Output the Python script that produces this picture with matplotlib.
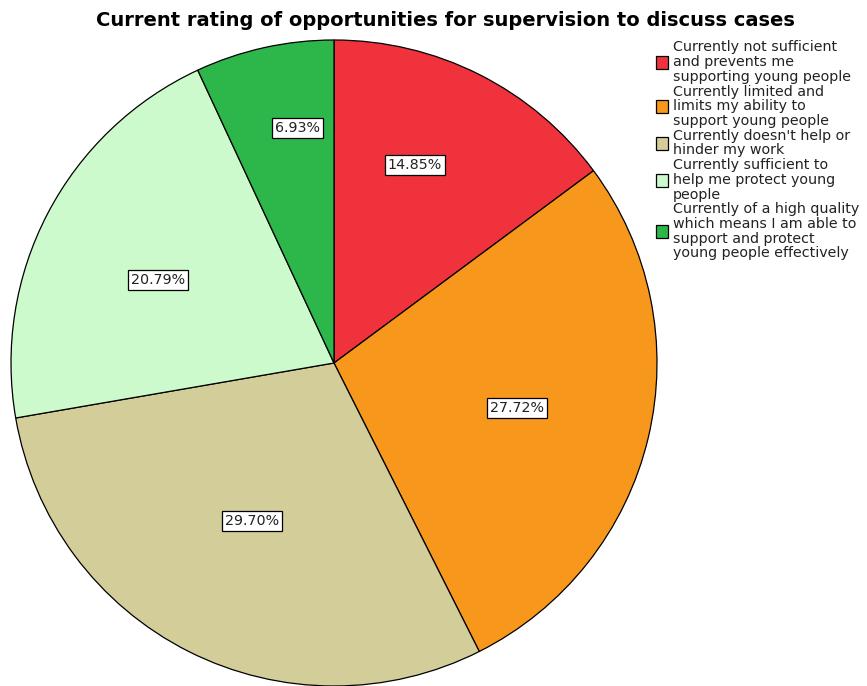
import matplotlib
matplotlib.use("Agg")
import numpy as np
import matplotlib.pyplot as plt
from matplotlib.patches import Rectangle

categories = [
    "Currently not sufficient\nand prevents me\nsupporting young people",
    "Currently limited and\nlimits my ability to\nsupport young people",
    "Currently doesn't help or\nhinder my work",
    "Currently sufficient to\nhelp me protect young\npeople",
    "Currently of a high quality\nwhich means I am able to\nsupport and protect\nyoung people effectively",
]
percentages = [14.85, 27.72, 29.70, 20.79, 6.93]
colors = ["#EF323C", "#F7981D", "#D3CD99", "#CCFACC", "#2DB74A"]

# value-label placement (polar, in pie radius units / degrees)
label_radii = [0.662, 0.584, 0.552, 0.602, 0.737]
label_angles = [67.8, -13.8, -117.4, 154.7, 98.9]

W, H = 867, 686
fig = plt.figure(figsize=(W / 100, H / 100), dpi=100)

# pie axes: centre (334, 363) px, radius 323 px
cx, cy, r = 334, 363, 323
ax = fig.add_axes([(cx - r) / W, (H - cy - r) / H, 2 * r / W, 2 * r / H])
wedges, _ = ax.pie(percentages, colors=colors, startangle=90, counterclock=False,
                   wedgeprops=dict(edgecolor="black", linewidth=0.9))
ax.set_xlim(-1, 1)
ax.set_ylim(-1, 1)
ax.set_aspect("equal")
ax.axis("off")

for pct, rad, a in zip(percentages, label_radii, label_angles):
    ang = np.deg2rad(a)
    ax.text(rad * np.cos(ang), rad * np.sin(ang), f"{pct:.2f}%",
            ha="center", va="center", fontsize=10.3, family="DejaVu Sans",
            color="#222222",
            bbox=dict(boxstyle="square,pad=0.22", fc="white", ec="black", lw=0.9))

fig.text(445 / W, 1 - 21 / H, "Current rating of opportunities for supervision to discuss cases",
         ha="center", va="center", fontsize=14, fontweight="bold",
         family="DejaVu Sans")

# legend
line_h = 14.7
y = 47.5
for label, col in zip(categories, colors):
    lines = label.split("\n")
    n = len(lines)
    mid = y + (n - 1) * line_h / 2
    fig.patches.append(Rectangle((656 / W, 1 - (mid + 7) / H), 12 / W, 13 / H,
                                 transform=fig.transFigure, fc=col, ec="black", lw=0.9))
    for i, ln in enumerate(lines):
        fig.text(673 / W, 1 - (y + i * line_h) / H, ln, ha="left", va="center",
                 fontsize=10.3, family="DejaVu Sans", color="#222222")
    y += n * line_h

fig.savefig("out.png", dpi=100)
